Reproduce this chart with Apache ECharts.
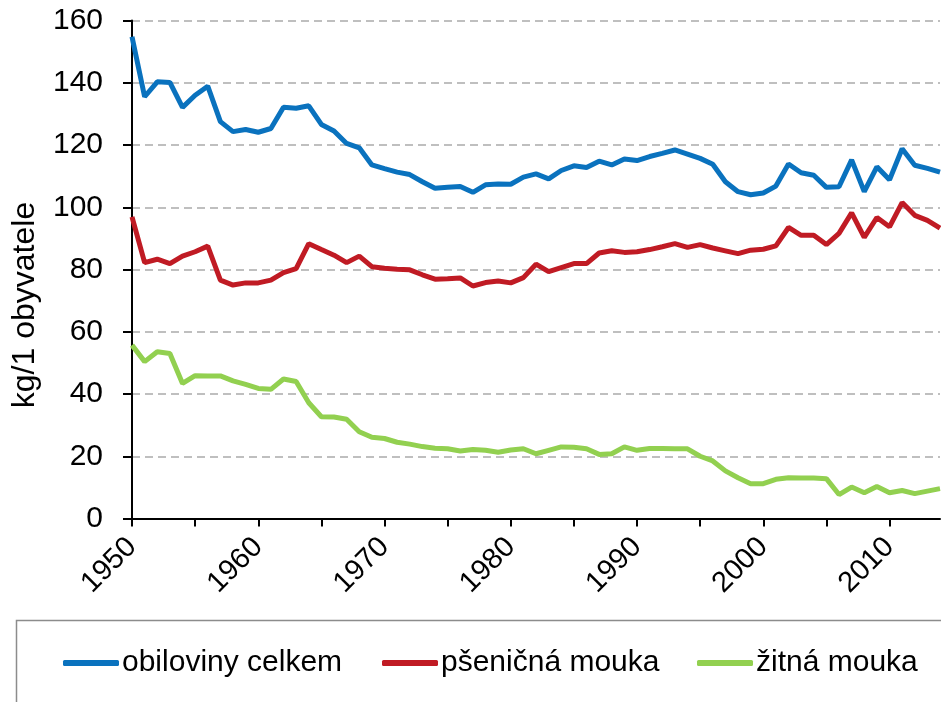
<!DOCTYPE html>
<html>
<head>
<meta charset="utf-8">
<script src="https://cdn.jsdelivr.net/npm/echarts@6.0.0/dist/echarts.min.js"></script>
<style>
  html, body { margin: 0; padding: 0; background: #fff; }
  #chart { width: 941px; height: 702px; }
</style>
</head>
<body>
<div id="chart"></div>
<script>
// roky 1950-2014
var years = [];
for (var y = 1950; y <= 2014; y++) years.push(String(y));

var obiloviny = [154.8, 135.5, 140.3, 140.1, 132.1, 136.0, 138.9, 127.5, 124.3, 125.0,
                 124.1, 125.3, 132.1, 131.8, 132.6, 126.6, 124.5, 120.5, 119.1, 113.6,
                 112.4, 111.3, 110.5, 108.2, 106.1, 106.4, 106.7, 104.8, 107.2, 107.5,
                 107.4, 109.7, 110.7, 109.1, 111.8, 113.3, 112.8, 114.8, 113.6, 115.5,
                 115.0, 116.3, 117.3, 118.4, 117.1, 115.7, 113.8, 108.2, 105.0, 104.0,
                 104.6, 106.8, 113.9, 111.1, 110.3, 106.4, 106.6, 115.2, 105.0, 113.0,
                 108.8, 118.8, 113.5, 112.5, 111.3];

var psenicna = [96.9, 82.2, 83.3, 81.9, 84.3, 85.7, 87.5, 76.6, 75.0, 75.7,
                75.7, 76.6, 79.0, 80.3, 88.3, 86.4, 84.6, 82.2, 84.3, 80.9,
                80.4, 80.1, 79.9, 78.3, 76.9, 77.0, 77.3, 74.7, 75.8, 76.3,
                75.7, 77.4, 81.7, 79.3, 80.6, 81.9, 81.9, 85.3, 86.0, 85.5,
                85.7, 86.4, 87.3, 88.3, 87.1, 88.0, 86.9, 86.0, 85.1, 86.2,
                86.5, 87.6, 93.5, 91.0, 91.0, 88.0, 91.6, 98.2, 90.3, 96.7,
                93.7, 101.5, 97.4, 95.8, 93.3];

var zitna = [55.7, 50.4, 53.6, 53.0, 43.4, 45.9, 45.8, 45.8, 44.2, 43.1,
             41.8, 41.5, 44.8, 44.0, 37.2, 32.7, 32.6, 31.9, 27.9, 26.1,
             25.7, 24.5, 23.9, 23.1, 22.6, 22.4, 21.7, 22.2, 21.9, 21.3,
             22.0, 22.4, 20.8, 21.9, 23.0, 22.9, 22.4, 20.6, 20.8, 23.0,
             21.9, 22.5, 22.5, 22.4, 22.4, 20.0, 18.5, 15.3, 13.1, 11.2,
             11.2, 12.6, 13.1, 13.0, 13.0, 12.8, 7.7, 10.1, 8.3, 10.3,
             8.3, 9.0, 8.0, 8.8, 9.6];

var names = ['obiloviny celkem', 'pšeničná mouka', 'žitná mouka'];
var colors = ['#0A72BE', '#C01B24', '#92D050'];

var font = "'Liberation Sans', Arial, sans-serif";

var myChart = echarts.init(document.getElementById('chart'));

function legendAt(name, left) {
    return {
        data: [name],
        left: left,
        top: 648,
        icon: 'roundRect',
        itemWidth: 56,
        itemHeight: 6,
        itemGap: 4,
        padding: 0,
        textStyle: { fontFamily: font, fontSize: 30, color: '#000', padding: [0, 0, 0, -2] }
    };
}

var option = {
    animation: false,
    color: colors,
    grid: {
        left: 132,
        right: 1,
        top: 20.5,
        bottom: 183.5,
        outerBoundsMode: 'none'
    },
    legend: [
        legendAt(names[0], 63),
        legendAt(names[1], 382),
        legendAt(names[2], 697)
    ],
    graphic: [
        {
            type: 'rect',
            shape: { x: 16.5, y: 620.5, width: 940, height: 100 },
            style: { fill: 'none', stroke: '#8c8c8c', lineWidth: 1.5 },
            silent: true
        },
        {
            type: 'text',
            x: 25,
            y: 305,
            rotation: Math.PI / 2,
            style: {
                text: 'kg/1 obyvatele',
                fontFamily: font,
                fontSize: 32,
                fill: '#000',
                align: 'center',
                verticalAlign: 'middle'
            }
        }
    ],
    xAxis: {
        type: 'category',
        data: years,
        boundaryGap: false,
        axisLine: { lineStyle: { color: '#000', width: 2 } },
        axisTick: { interval: 4, length: 8, lineStyle: { color: '#000', width: 2 } },
        axisLabel: {
            interval: 9,
            rotate: 45,
            margin: 24,
            fontFamily: font,
            fontSize: 29,
            color: '#000'
        },
        splitLine: { show: false }
    },
    yAxis: {
        type: 'value',
        min: 0,
        max: 160,
        interval: 20,
        axisLine: { show: true, lineStyle: { color: '#000', width: 2 } },
        axisTick: { show: true, length: 9, lineStyle: { color: '#000', width: 2 } },
        axisLabel: {
            margin: 29,
            fontFamily: font,
            fontSize: 30,
            color: '#000'
        },
        splitLine: {
            show: true,
            lineStyle: { color: '#bfbfbf', width: 2, type: [8, 5] }
        }
    },
    series: [
        {
            name: names[0], type: 'line', data: obiloviny,
            showSymbol: false, symbol: 'none',
            lineStyle: { width: 5, color: colors[0] }, z: 3
        },
        {
            name: names[1], type: 'line', data: psenicna,
            showSymbol: false, symbol: 'none',
            lineStyle: { width: 5, color: colors[1] }, z: 3
        },
        {
            name: names[2], type: 'line', data: zitna,
            showSymbol: false, symbol: 'none',
            lineStyle: { width: 5, color: colors[2] }, z: 3
        }
    ]
};

myChart.setOption(option);
window.addEventListener('resize', function () { myChart.resize(); });
</script>
</body>
</html>
